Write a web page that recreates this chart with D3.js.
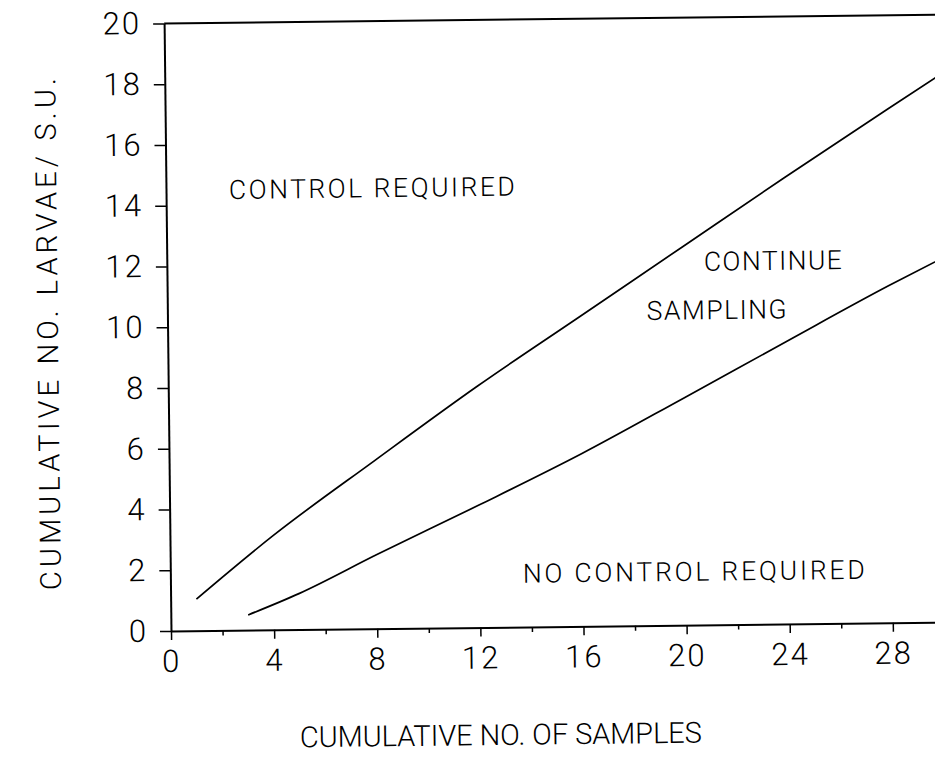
<!DOCTYPE html>
<html>
<head>
<meta charset="utf-8">
<script src="https://cdn.jsdelivr.net/npm/d3@7"></script>
<style>
  html, body { margin: 0; padding: 0; background: #fff; }
  svg { display: block; }
  text { font-family: Roboto, "Liberation Sans", Arial, sans-serif; font-weight: 300; fill: #000; }
</style>
</head>
<body>
<svg id="chart" width="935" height="759"></svg>
<script>
// Sequential sampling plan: decision boundaries
const samplesUpper = [1, 4, 8, 12, 16, 20, 24, 28, 30];
const controlBoundary = [1.04, 3.1, 5.55, 7.95, 10.2, 12.45, 14.7, 16.9, 17.98];

const samplesLower = [3, 5, 8, 12, 16, 20, 24, 28, 30];
const noControlBoundary = [0.5, 1.19, 2.43, 4.03, 5.68, 7.48, 9.3, 11.1, 11.95];

const xMajorTicks = [0, 4, 8, 12, 16, 20, 24, 28];
const xMinorTicks = [2, 6, 10, 14, 18, 22, 26];
const yTicks = [0, 2, 4, 6, 8, 10, 12, 14, 16, 18, 20];

const regionLabels = ["CONTROL REQUIRED", "CONTINUE", "SAMPLING", "NO CONTROL REQUIRED"];
const xTitle = "CUMULATIVE NO. OF SAMPLES";
const yTitle = "CUMULATIVE NO. LARVAE/ S.U.";

// layout
const origin = { x: 171, y: 631 };
const pxPerX = 25.78, pxPerY = 30.38;
const x = d3.scaleLinear().domain([0, 30]).range([origin.x, origin.x + 30 * pxPerX]);
const y = d3.scaleLinear().domain([0, 20]).range([origin.y, origin.y - 20 * pxPerY]);

const svg = d3.select("#chart");
svg.append("rect").attr("width", 935).attr("height", 759).attr("fill", "#fff");

// the printed figure sits at a slight angle on the page
const g = svg.append("g").attr("transform", `rotate(-0.65, ${origin.x}, ${origin.y})`);

// x axis: major ticks with labels, minor ticks between
const xAxis = g.append("g")
  .attr("transform", `translate(0,${origin.y})`)
  .call(d3.axisBottom(x).tickValues(xMajorTicks).tickSize(9).tickPadding(10).tickSizeOuter(0));
g.append("g")
  .attr("transform", `translate(0,${origin.y})`)
  .call(d3.axisBottom(x).tickValues(xMinorTicks).tickSize(5).tickFormat("").tickSizeOuter(0))
  .call(a => a.select(".domain").remove());

// y axis
const yAxis = g.append("g")
  .attr("transform", `translate(${origin.x},0)`)
  .call(d3.axisLeft(y).tickValues(yTicks).tickSize(11).tickPadding(12).tickSizeOuter(0));

[xAxis, yAxis].forEach(a => {
  a.select(".domain").attr("stroke", "#000").attr("stroke-width", 2);
  a.selectAll(".tick text")
    .attr("font-size", 31)
    .attr("font-family", "Roboto, Liberation Sans, Arial, sans-serif")
    .attr("font-weight", 300)
    .attr("letter-spacing", 2);
});
g.selectAll(".tick line").attr("stroke", "#000").attr("stroke-width", 1.5);

// top frame line at y = 20
g.append("line")
  .attr("x1", x(0)).attr("x2", x(30))
  .attr("y1", y(20)).attr("y2", y(20))
  .attr("stroke", "#000").attr("stroke-width", 2);

// boundary lines
const line = d3.line().x(d => x(d[0])).y(d => y(d[1])).curve(d3.curveMonotoneX);
const upper = samplesUpper.map((s, i) => [s, controlBoundary[i]]);
const lower = samplesLower.map((s, i) => [s, noControlBoundary[i]]);
[upper, lower].forEach(pts => {
  g.append("path")
    .attr("d", line(pts))
    .attr("fill", "none")
    .attr("stroke", "#000")
    .attr("stroke-width", 1.7);
});

// region annotations (data units for position, pixel width for the run of text)
const labelPlacement = [
  { x: 2.44, y: 14.2, w: 286 },
  { x: 20.83, y: 11.66, w: 138 },
  { x: 18.59, y: 10.06, w: 140 },
  { x: 13.67, y: 1.46, w: 342 }
];
regionLabels.forEach((t, i) => {
  const p = labelPlacement[i];
  g.append("text")
    .attr("x", x(p.x)).attr("y", y(p.y))
    .attr("font-size", 26.5)
    .attr("textLength", p.w)
    .attr("lengthAdjust", "spacing")
    .text(t);
});

// axis titles
g.append("text")
  .attr("x", 499.7).attr("y", 748.7)
  .attr("text-anchor", "middle")
  .attr("font-size", 29)
  .attr("textLength", 402)
  .attr("lengthAdjust", "spacing")
  .text(xTitle);

g.append("text")
  .attr("transform", "translate(61.4,332.7) rotate(-90)")
  .attr("text-anchor", "middle")
  .attr("font-size", 29)
  .attr("textLength", 512)
  .attr("lengthAdjust", "spacing")
  .text(yTitle);
</script>
</body>
</html>
